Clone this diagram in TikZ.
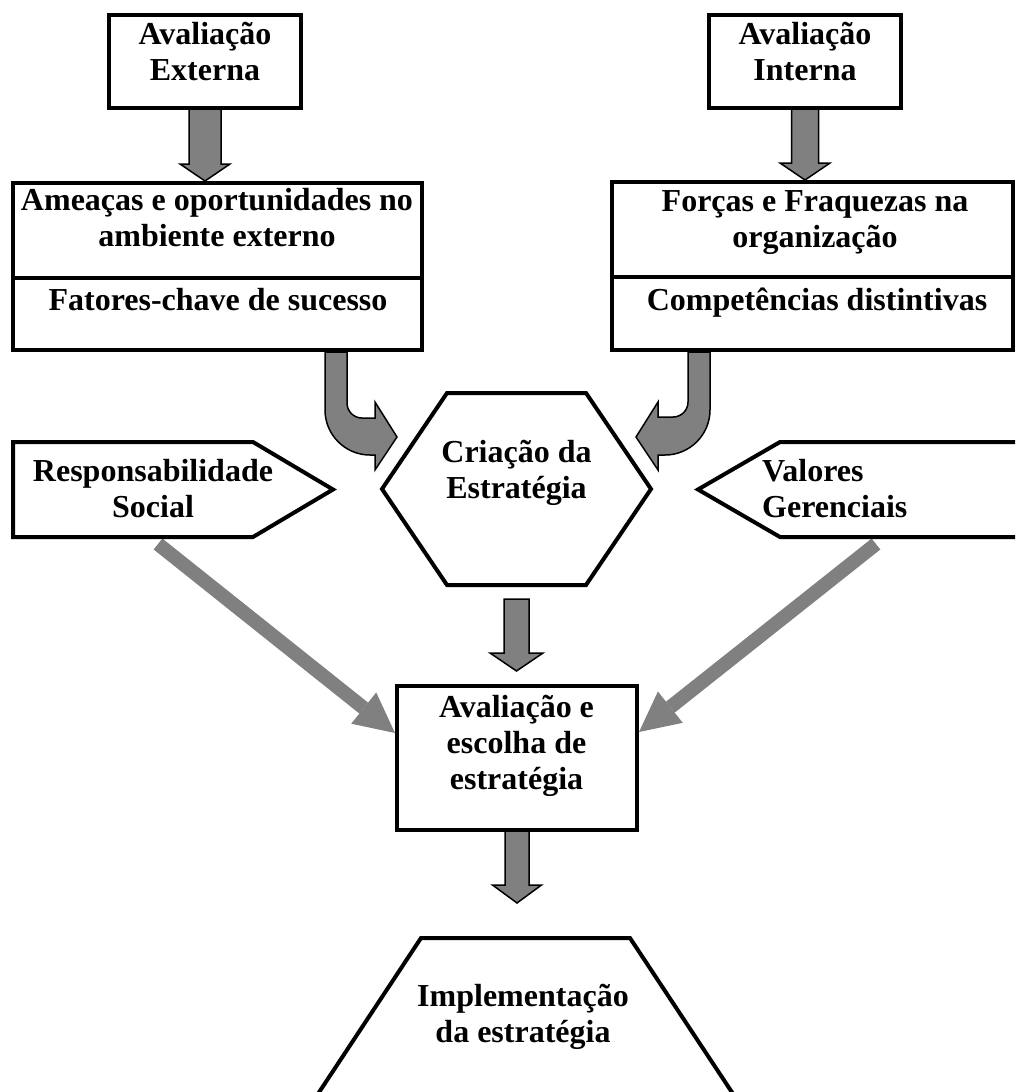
\documentclass[tikz,border=0pt]{standalone}
\usepackage{fontspec}
\setmainfont{Liberation Serif}
\usetikzlibrary{calc,arrows.meta}
\definecolor{arrowgray}{RGB}{128,128,128}
\pgfdeclarelayer{background}
\pgfsetlayers{background,main}
\tikzset{
  border/.style={draw=black, line width=4pt, line join=miter},
  box/.style={border, rectangle, inner sep=0pt, outer sep=0pt},
  frame/.style={rectangle, inner sep=0pt, outer sep=0pt},
  lbl/.style={font=\fontsize{32}{36}\selectfont\bfseries, align=center, inner sep=0pt,
              execute at begin node=\strut, execute at end node=\strut},
  blockstyle/.style={fill=arrowgray, draw=black, line width=1.5pt, line join=miter},
  grayarrow/.style={draw=arrowgray, line width=14pt,
              -{Triangle[length=40pt,width=40pt,line width=0pt]}},
}
% #1 start, #2 end (its y is used), #3 half shaft, #4 half head, #5 head length
\newcommand\blockarrow[5]{%
  \coordinate (bas) at (#1);
  \coordinate (bae0) at (#2);
  \coordinate (bae) at (bas |- bae0);
  \draw[blockstyle] ($(bas)+(-#3,0)$) -- ($(bae)+(-#3,-#5)$) -- ($(bae)+(-#4,-#5)$)
    -- (bae) -- ($(bae)+(#4,-#5)$) -- ($(bae)+(#3,-#5)$) -- ($(bas)+(#3,0)$) -- cycle;
}
\begin{document}
\begin{tikzpicture}[x=1pt,y=-1pt]
\useasboundingbox (0,0) rectangle (1015,1092);
\clip (0,0) rectangle (1015,1092);

% ---------- shapes ----------
\node[box, minimum width=192pt, minimum height=93pt] (ext) at (205,61.5) {};
\node[box, minimum width=191.5pt, minimum height=93pt] (int) at (805,61.5) {};
\node[box, minimum width=409pt, minimum height=167pt] (amea) at (217,266.5) {};
\draw[border] ($(amea.north west)+(0,95)$) -- ($(amea.north east)+(0,95)$);
\node[box, minimum width=401pt, minimum height=168pt] (forc) at (812.5,266) {};
\draw[border] ($(forc.north west)+(0,95)$) -- ($(forc.north east)+(0,95)$);

\node[frame, minimum width=269pt, minimum height=192pt] (hex) at (516.5,489) {};
\draw[border] (hex.west) -- ($(hex.north west)+(65,0)$) -- ($(hex.north east)+(-65,0)$)
  -- (hex.east) -- ($(hex.south east)+(-65,0)$) -- ($(hex.south west)+(65,0)$) -- cycle;

\node[frame, minimum width=320pt, minimum height=95pt] (resp) at (173,489.5) {};
\draw[border] (resp.north west) -- ($(resp.north east)+(-80,0)$) -- (resp.east)
  -- ($(resp.south east)+(-80,0)$) -- (resp.south west) -- cycle;

\node[frame, minimum width=335pt, minimum height=95pt] (val) at (865.5,489.5) {};
\draw[border] (val.north east) -- ($(val.north west)+(82,0)$) -- (val.west)
  -- ($(val.south west)+(82,0)$) -- (val.south east);

\node[box, minimum width=240pt, minimum height=144pt] (aval) at (517,758) {};

\node[frame, minimum width=439pt, minimum height=174pt] (impl) at (525.5,1025) {};
\draw[border] (impl.south west) -- ($(impl.north west)+(115,0)$)
  -- ($(impl.north east)+(-115,0)$) -- (impl.south east);

% ---------- labels ----------
\node[lbl] (extT) at (205,56.3) {Avaliação\\Externa};
\node[lbl] (intT) at (805,56.3) {Avaliação\\Interna};
\node[lbl] (ameaT) at (217,223) {Ameaças e oportunidades no\\ambiente externo};
\node[lbl] (fatT) at (218,303) {Fatores-chave de sucesso};
\node[lbl] (forcT) at (815,224) {Forças e Fraquezas na\\organização};
\node[lbl] (compT) at (817,303) {Competências distintivas};
\node[lbl] (hexT) at (516.5,475) {Criação da\\Estratégia};
\node[lbl] (respT) at (153,494) {Responsabilidade\\Social};
\node[lbl, align=left, anchor=west] (valT) at (762,494) {Valores\\Gerenciais};
\node[lbl] (avalT) at (516.5,748) {Avaliação e\\escolha de\\estratégia};
\node[lbl] (implT) at (523,1019) {Implementação\\da estratégia};

% ---------- connectors ----------
\begin{pgfonlayer}{background}
\blockarrow{ext.south}{$(amea.north)+(0,-2)$}{16}{25}{17}
\blockarrow{int.south}{$(forc.north)+(0,-2)$}{13.5}{25}{17}
\blockarrow{$(hex.south)+(0,14)$}{$(aval.north)+(0,-15)$}{12.5}{26.5}{18}
\blockarrow{aval.south}{$(impl.north)+(0,-35)$}{12}{24.5}{18}

\coordinate (cl) at ($(amea.south east)+(-85.5,0)$);
\draw[blockstyle, shift={(cl)}] (-11,2) -- (-11,60)
  .. controls +(0,24.8) and +(-24.8,0) .. (34,105) -- (39,105) -- (39,120)
  -- (61,87) -- (39,52) -- (39,68) -- (26,68)
  .. controls +(-8.3,0) and +(0,8.3) .. (11,53) -- (11,2) -- cycle;

\coordinate (cr) at ($(forc.south west)+(87,0)$);
\draw[blockstyle, shift={(cr)}] (11,2) -- (11,60)
  .. controls +(0,24.8) and +(24.8,0) .. (-34,105) -- (-41,105) -- (-41,120)
  -- (-63,87) -- (-41,52) -- (-41,67) -- (-26,67)
  .. controls +(8.3,0) and +(0,8.3) .. (-11,52) -- (-11,2) -- cycle;

\draw[grayarrow] ($(resp.south)+(-15,7)$) -- ($(aval.west)+(-2,-25)$);
\draw[grayarrow] ($(val.south west)+(178,7)$) -- ($(aval.east)+(2,-26)$);
\end{pgfonlayer}
\end{tikzpicture}
\end{document}
